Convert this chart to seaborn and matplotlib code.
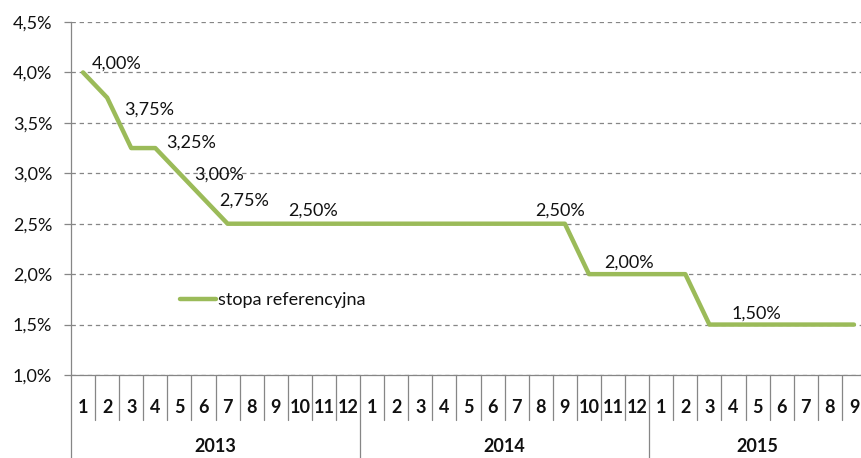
import matplotlib
matplotlib.use("Agg")
import matplotlib.pyplot as plt
import seaborn as sns
import numpy as np
import pandas as pd

# ---- data ----
years = ["2013", "2014", "2015"]
months_2013 = list(range(1, 13))
months_2014 = list(range(1, 13))
months_2015 = list(range(1, 10))
rate_2013 = [4.00, 3.75, 3.25, 3.25, 3.00, 2.75, 2.50, 2.50, 2.50, 2.50, 2.50, 2.50]
rate_2014 = [2.50, 2.50, 2.50, 2.50, 2.50, 2.50, 2.50, 2.50, 2.50, 2.00, 2.00, 2.00]
rate_2015 = [2.00, 2.00, 1.50, 1.50, 1.50, 1.50, 1.50, 1.50, 1.50]
series_name = "stopa referencyjna"
# indices of points carrying a data label, and pixel offsets for them
label_idx = [0, 1, 3, 4, 5, 9, 20, 22, 28]
label_off = [(9, 9), (17, -12), (11, 5), (15, -1), (16, -2), (-12, 13), (-30, 13), (-9, 12), (-26, 11)]
yticks = [1.0, 1.5, 2.0, 2.5, 3.0, 3.5, 4.0, 4.5]

months = months_2013 + months_2014 + months_2015
rates = rate_2013 + rate_2014 + rate_2015
df = pd.DataFrame({"idx": np.arange(len(rates)), "rate": rates,
                   "series": [series_name] * len(rates)})

sns.set_style("white")
plt.rcParams["font.family"] = ["Lato", "DejaVu Sans"]

W, H = 861, 458
fig = plt.figure(figsize=(W / 100, H / 100), dpi=100)
left, right, top, bottom = 71, 866, 22, 375
ax = fig.add_axes([left / W, (H - bottom) / H, (right - left) / W, (bottom - top) / H])

green = "#9BBB59"
gray = "#868686"
txt = "#111111"
fs = 13

sns.lineplot(data=df, x="idx", y="rate", hue="series", palette=[green],
             linewidth=3.2, ax=ax, legend=True)

ax.set_xlim(-0.5, len(rates) - 0.5)
ax.set_ylim(1.0, 4.5)
ax.set_yticks(yticks)
ax.set_yticklabels([f"{v:.1f}".replace(".", ",") + "%" for v in yticks], fontsize=fs, color=txt)
ax.yaxis.grid(True, linestyle=(0, (3.5, 3)), color=gray, linewidth=0.9)
ax.xaxis.grid(False)
ax.tick_params(axis="y", length=5, width=0.9, color=gray, pad=8.5, left=True)
ax.set_xlabel("")
ax.set_ylabel("")
for s in ["top", "right"]:
    ax.spines[s].set_visible(False)
for s in ["left", "bottom"]:
    ax.spines[s].set_color(gray)
    ax.spines[s].set_linewidth(0.9)

# month tick labels
ax.set_xticks(np.arange(len(rates)))
ax.set_xticklabels([str(m) for m in months], fontsize=fs, fontweight="bold", color=txt)
ax.tick_params(axis="x", length=0, pad=17.5)

axh = bottom - top
trans = ax.get_xaxis_transform()
# category separators
n = len(rates)
year_bounds = [-0.5, 11.5, 23.5]
for b in np.arange(0.5, n - 0.5, 1.0):
    if b in year_bounds:
        continue
    ax.plot([b, b], [0, -45 / axh], transform=trans, color=gray, lw=0.9, clip_on=False)
for b in year_bounds:
    ax.plot([b, b], [0, -(H - bottom + 2) / axh], transform=trans, color=gray, lw=0.9, clip_on=False)

# year labels
year_centers = [5.5, 17.5, 28]
for yc, yr in zip(year_centers, years):
    ax.text(yc, -(447 - bottom) / axh, yr, transform=trans, ha="center", va="center",
            fontsize=fs, fontweight="bold", color=txt)

# data labels
for i, (dx, dy) in zip(label_idx, label_off):
    ax.annotate(f"{rates[i]:.2f}".replace(".", ",") + "%", xy=(i, rates[i]),
                xytext=(dx, dy), textcoords="offset pixels", ha="left", va="center",
                fontsize=fs, color=txt)

# legend
leg = ax.legend(loc="center left", bbox_to_anchor=(180 / W, (H - 300) / H),
                bbox_transform=fig.transFigure, frameon=False, fontsize=fs,
                handlelength=2.0, handletextpad=0.1, borderpad=0, borderaxespad=0)
for t in leg.get_texts():
    t.set_color(txt)

fig.savefig("out.png", dpi=100)
